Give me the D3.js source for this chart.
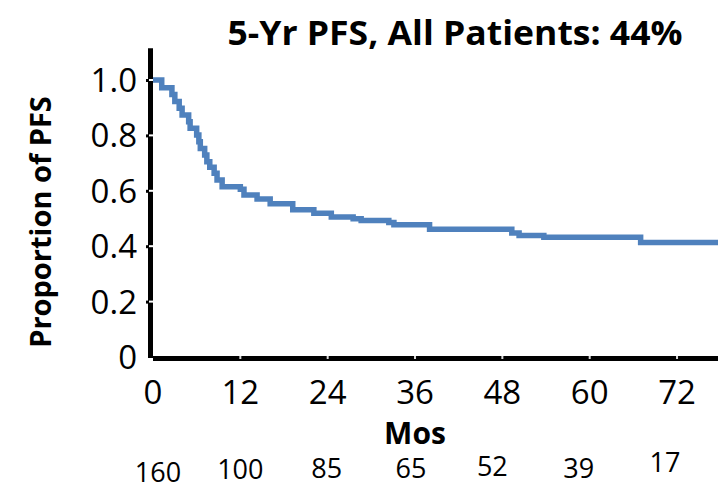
<!DOCTYPE html>
<html>
<head>
<meta charset="utf-8">
<script src="https://cdn.jsdelivr.net/npm/d3@7"></script>
<style>
  html, body { margin: 0; padding: 0; background: #ffffff; }
  svg { display: block; }
  text { font-family: "Open Sans", "Liberation Sans", sans-serif; fill: #000; }
</style>
</head>
<body>
<svg id="chart" width="718" height="491"></svg>
<script>
// Kaplan-Meier progression-free survival, all patients
const stepMonths = [0, 1.2, 2.6, 3.0, 3.6, 4.0, 4.9, 5.1, 6.0, 6.3, 6.5, 7.1, 7.4, 7.8, 8.4, 8.8, 9.5,
                    12.0, 12.5, 14.3, 16.1, 19.2, 22.1, 24.5, 27.5, 28.6, 32.4, 33.1, 38.0, 49.3, 50.3, 53.7, 67.0, 78];
const stepPFS = [1.0, 0.972, 0.948, 0.922, 0.898, 0.874, 0.849, 0.826, 0.801, 0.777, 0.753, 0.729, 0.705, 0.685, 0.663, 0.639, 0.615,
                 0.606, 0.585, 0.570, 0.553, 0.532, 0.519, 0.505, 0.499, 0.493, 0.486, 0.477, 0.461, 0.448, 0.439, 0.432, 0.413, 0.413];

const xTicks = [0, 12, 24, 36, 48, 60, 72];
const yTicks = [0, 0.2, 0.4, 0.6, 0.8, 1.0];
const yTickLabels = ["0", "0.2", "0.4", "0.6", "0.8", "1.0"];
const atRiskMonths = [0, 12, 24, 36, 48, 60, 72];
const atRisk = [160, 100, 85, 65, 52, 39, 17];

const titleText = "5-Yr PFS, All Patients: 44%";
const yTitle = "Proportion of PFS";
const xTitle = "Mos";

const svg = d3.select("#chart");

const x = d3.scaleLinear().domain([0, 78]).range([153, 720.7]);
const y = d3.scaleLinear().domain([0, 1.1]).range([357, 52.3]);

// Axes: heavy black lines with small notches at the ticks
const axisG = svg.append("g");
axisG.append("line")
  .attr("x1", 150.5).attr("x2", 150.5)
  .attr("y1", y(1.1) - 4).attr("y2", y(0) + 1)
  .attr("stroke", "#000").attr("stroke-width", 5);
axisG.append("line")
  .attr("x1", x(0)).attr("x2", 718)
  .attr("y1", 358.5).attr("y2", 358.5)
  .attr("stroke", "#000").attr("stroke-width", 5);

axisG.selectAll(".ynotch").data(yTicks.filter(d => d > 0)).join("rect")
  .attr("x", 149).attr("y", d => y(d) - 1)
  .attr("width", 4).attr("height", 2)
  .attr("fill", "#fff");
axisG.selectAll(".ynub").data(yTicks.filter(d => d > 0)).join("rect")
  .attr("x", 146).attr("y", d => y(d) - 1)
  .attr("width", 2.5).attr("height", 3)
  .attr("fill", "#000");
axisG.selectAll(".xnotch").data(xTicks.filter(d => d > 0)).join("rect")
  .attr("x", d => x(d) - 1).attr("y", 356)
  .attr("width", 2).attr("height", 3)
  .attr("fill", "#ddd");

// Survival curve
const curve = d3.line()
  .x((d, i) => x(stepMonths[i]))
  .y(d => y(d))
  .curve(d3.curveStepAfter);

svg.append("path")
  .datum(stepPFS)
  .attr("d", curve)
  .attr("fill", "none")
  .attr("stroke", "#4f81bd")
  .attr("stroke-width", 5.5)
  .attr("stroke-linejoin", "miter");

// Tick labels
svg.selectAll(".ylab").data(yTicks).join("text")
  .attr("x", 137).attr("y", d => y(d) + 12)
  .attr("text-anchor", "end")
  .attr("font-size", 33)
  .text((d, i) => yTickLabels[i]);

svg.selectAll(".xlab").data(xTicks).join("text")
  .attr("x", d => x(d)).attr("y", 404)
  .attr("text-anchor", "middle")
  .attr("font-size", 33)
  .text(d => d);

// Titles
svg.append("text")
  .attr("x", 455).attr("y", 45)
  .attr("text-anchor", "middle")
  .attr("font-size", 34).attr("font-weight", "bold")
  .attr("textLength", 455).attr("lengthAdjust", "spacingAndGlyphs")
  .text(titleText);

svg.append("text")
  .attr("transform", "translate(51,222) rotate(-90)")
  .attr("text-anchor", "middle")
  .attr("font-size", 29).attr("font-weight", "bold")
  .text(yTitle);

svg.append("text")
  .attr("x", 415).attr("y", 444)
  .attr("text-anchor", "middle")
  .attr("font-size", 30).attr("font-weight", "bold")
  .text(xTitle);

// Number at risk row
const riskNudgeX = [5, 0, -1, -4, -10, -11, -12];
const riskBase = [482, 479, 478, 478, 476, 478, 472];
svg.selectAll(".risk").data(atRisk).join("text")
  .attr("x", (d, i) => x(atRiskMonths[i]) + riskNudgeX[i])
  .attr("y", (d, i) => riskBase[i])
  .attr("text-anchor", "middle")
  .attr("font-size", 27)
  .text(d => d);
</script>
</body>
</html>
